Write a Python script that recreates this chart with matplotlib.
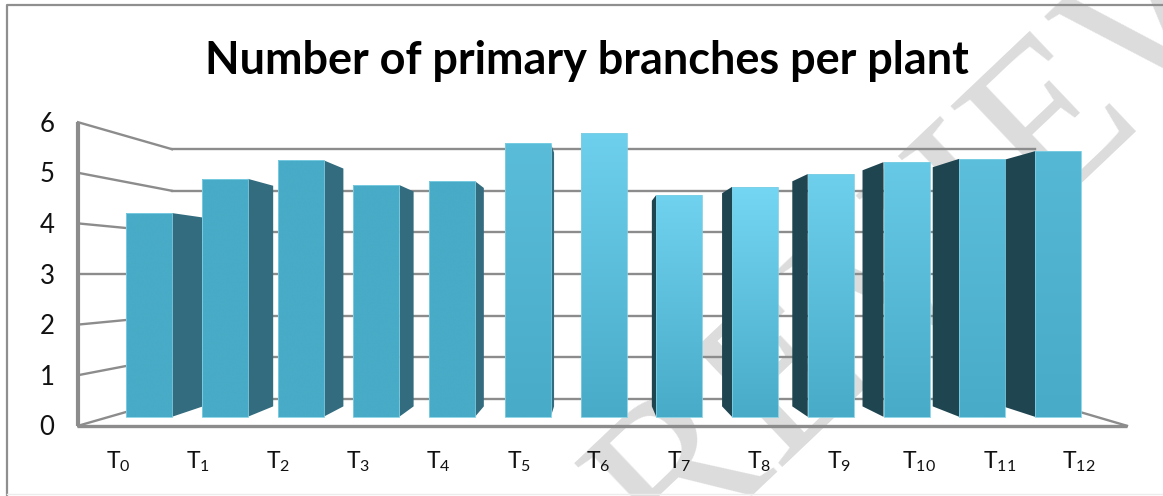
import matplotlib
matplotlib.use('Agg')
import matplotlib.pyplot as plt
from matplotlib.patches import Polygon, Rectangle
import numpy as np

plt.rcParams['font.family'] = ['Lato', 'DejaVu Sans']
plt.rcParams['mathtext.fontset'] = 'custom'
plt.rcParams['mathtext.rm'] = 'Lato'
plt.rcParams['mathtext.default'] = 'rm'

# Data
treatments = ['T$_{%d}$' % i for i in range(13)]
branches = [4.28, 5.00, 5.39, 4.87, 4.95, 5.75, 5.96, 4.66, 4.83, 5.10, 5.35, 5.42, 5.58]
y_ticks = [0, 1, 2, 3, 4, 5, 6]

# the fake 3d box of the chart, in pixels
W, H = 1163, 496
mid_y = 274       # value 3 sits here on every depth
wall_unit = 50.6  # front of the box
back_unit = 41.6  # back of the box
bar_unit = 47.6   # front of the bars
center_x = 596
depth = 0.927
left_x, back_x, right_x, back_end = 78, 172, 1127, 1035
bar_left, bar_step, bar_w = 126, 75.75, 46

grid_color = '#8c8c8c'
side_left = '#326c7e'
side_right = '#1f4551'
base_color = np.array([0x48, 0xab, 0xc7]) / 255
top_color = np.array([0x74, 0xd6, 0xf2]) / 255
# how far each bar fades to the light colour at its top
fade = [0.0, 0.0, 0.0, 0.0, 0.0, 0.4, 0.85, 0.9, 1.0, 0.85, 0.7, 0.45, 0.3]


def val_y(v, unit):
    return mid_y - (v - 3) * unit


fig = plt.figure(figsize=(W / 100, H / 100), dpi=100)
ax = fig.add_axes([0, 0, 1, 1])
ax.set_xlim(0, W)
ax.set_ylim(H, 0)
ax.axis('off')

# watermark behind everything
ax.text(1298, -22, 'PEER REVIEW', fontsize=160, color='#dcdcdc', family='Liberation Serif',
        rotation=43.5, rotation_mode='anchor', ha='right', va='baseline', zorder=0, clip_on=True)

# outer frame
ax.plot([7, 7, W], [H, 5, 5], color='#8f8f8f', lw=1.6, zorder=1)
ax.plot([7, W], [494, 494], color='#ececec', lw=1, zorder=1)

# walls and grid
for t in y_ticks:
    yf = val_y(t, wall_unit)
    yb = val_y(t, back_unit)
    ax.plot([left_x, back_x], [yf, yb], color=grid_color, lw=1.7, zorder=2)
    ax.plot([back_x, back_end], [yb, yb], color=grid_color, lw=1.7, zorder=2)
    ax.text(47, yf + 2, str(t), fontsize=18.5, ha='center', va='center', color='#111111', zorder=6)
ax.plot([right_x, back_end], [val_y(0, wall_unit), val_y(0, back_unit)], color=grid_color, lw=1.7, zorder=2)

# bars
for i, v in enumerate(branches):
    x0 = bar_left + i * bar_step
    x1 = x0 + bar_w
    top = val_y(v, bar_unit)
    bottom = val_y(0, bar_unit)
    edge = None
    if x1 < center_x:
        edge = x1
        color = side_left
    elif x0 > center_x:
        edge = x0
        color = side_right
    if edge is not None:
        back = center_x + (edge - center_x) * depth
        pts = [(edge, top), (back, mid_y + (top - mid_y) * depth),
               (back, mid_y + (bottom - mid_y) * depth), (edge, bottom)]
        ax.add_patch(Polygon(pts, closed=True, facecolor=color, edgecolor='none', zorder=3))

for i, v in enumerate(branches):
    x0 = bar_left + i * bar_step
    x1 = x0 + bar_w
    top = val_y(v, bar_unit)
    bottom = val_y(0, bar_unit)
    light = base_color + (top_color - base_color) * fade[i]
    grad = np.linspace(0, 1, 64)[:, None, None]
    img = light + (base_color - light) * grad
    ax.imshow(img, extent=[x0, x1, bottom, top], aspect='auto', zorder=4, interpolation='bilinear')
    ax.add_patch(Rectangle((x0, top), bar_w, bottom - top, fill=False, edgecolor='#7fd0e4',
                           lw=0.6, zorder=4))
    ax.text(118 + i * 80.1, 462, treatments[i], fontsize=16.5,
            ha='center', va='center', color='#111111', zorder=6)

ax.set_xlim(0, W)
ax.set_ylim(H, 0)

# thick front axes on top of the walls
ax.plot([left_x, left_x], [val_y(6, wall_unit), val_y(0, wall_unit)], color=grid_color, lw=3, zorder=5,
        solid_capstyle='butt')
ax.plot([left_x - 1.5, right_x], [val_y(0, wall_unit)] * 2, color=grid_color, lw=2.4, zorder=5,
        solid_capstyle='butt')

ax.text(587, 61, 'Number of primary branches per plant', fontsize=32.4, fontweight='bold',
        ha='center', va='center', color='#000000', zorder=6)

fig.savefig('out.png', dpi=100)
